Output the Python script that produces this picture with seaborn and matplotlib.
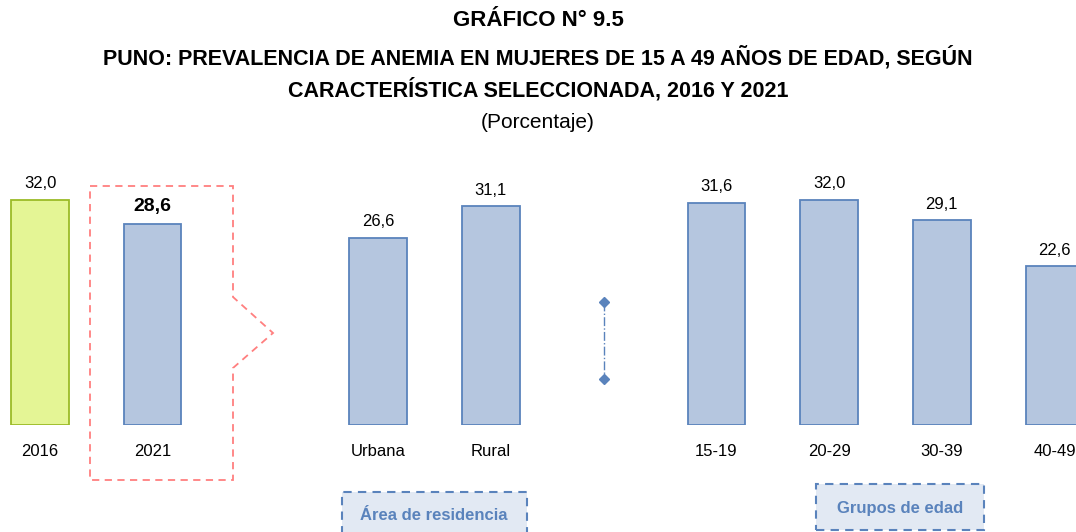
import pandas as pd
import matplotlib.pyplot as plt
import seaborn as sns
from matplotlib.patches import Polygon, Rectangle

# data
categorias = ["2016", "2021", "Urbana", "Rural", "15-19", "20-29", "30-39", "40-49"]
posiciones = [0, 1, 3, 4, 6, 7, 8, 9]
valores = [32.0, 28.6, 26.6, 31.1, 31.6, 32.0, 29.1, 22.6]
grupos = ["2016", "2021", "resto", "resto", "resto", "resto", "resto", "resto"]

df = pd.DataFrame({"pos": posiciones, "valor": valores, "grupo": grupos, "cat": categorias})

sns.set_style("white")
plt.rcParams['font.family'] = ['Liberation Sans Narrow', 'Liberation Sans', 'DejaVu Sans']
plt.rcParams['text.color'] = 'black'
plt.rcParams['xtick.color'] = 'black'

fig = plt.figure(figsize=(10.76, 5.32), dpi=100)
ax = fig.add_axes([0, 107 / 532, 1, 275 / 532])

paleta = {"2016": "#E4F595", "2021": "#B5C6DF", "resto": "#B5C6DF"}
sns.barplot(data=df, x="pos", y="valor", hue="grupo", palette=paleta, native_scale=True,
            dodge=False, width=0.51, legend=False, ax=ax, saturation=1)

# borde verde para 2016, azul para el resto
for p in ax.patches:
    cx = p.get_x() + p.get_width() / 2
    p.set_edgecolor("#9BBB27" if abs(cx) < 0.3 else "#5A83BC")
    p.set_linewidth(1.3)

for x, v in zip(posiciones, valores):
    txt = f"{v:.1f}".replace(".", ",")
    if x == 1:
        ax.text(x, v + 1.2, txt, ha="center", va="bottom", fontsize=14, fontweight="bold")
    else:
        ax.text(x, v + 1.2, txt, ha="center", va="bottom", fontsize=12)

ax.set_xlim(-0.355, 9.19)
ax.set_ylim(0, 39.1)
ax.set_xticks(posiciones)
ax.set_xticklabels(categorias, fontsize=12)
ax.tick_params(axis="x", length=0, pad=14)
ax.set_yticks([])
ax.set_xlabel("")
ax.set_ylabel("")
for s in ax.spines.values():
    s.set_visible(False)

# separador con rombos
ax.plot([5, 5], [17.5, 6.5], color="#5A83BC", linestyle="-.", linewidth=1,
        marker="D", markersize=5, clip_on=False)

# titulos
fig.text(0.5, 1 - 20 / 532, "GRÁFICO N° 9.5", ha="center", va="center", fontsize=16, fontweight="bold")
fig.text(0.5, 1 - 58 / 532, "PUNO: PREVALENCIA DE ANEMIA EN MUJERES DE 15 A 49 AÑOS DE EDAD, SEGÚN",
         ha="center", va="center", fontsize=15.5, fontweight="bold")
fig.text(0.5, 1 - 90 / 532, "CARACTERÍSTICA SELECCIONADA, 2016 Y 2021",
         ha="center", va="center", fontsize=15.5, fontweight="bold")
fig.text(0.5, 1 - 122 / 532, "(Porcentaje)", ha="center", va="center", fontsize=15)

# recuadro punteado alrededor de 2021
W, H = 1076, 532
pts = [(90, 186), (233, 186), (233, 297), (273, 333), (233, 368), (233, 480), (90, 480)]
pts = [(x / W, 1 - y / H) for x, y in pts]
fig.patches.append(Polygon(pts, closed=True, fill=False, edgecolor="#FF7F7F",
                           linestyle=(0, (4, 3)), linewidth=1.3, transform=fig.transFigure))

# cajas de grupos
fig.patches.append(Rectangle((342 / W, 1 - 540 / H), 185 / W, 48 / H, facecolor="#E2E9F3",
                             edgecolor="#5A83BC", linestyle=(0, (4, 3)), linewidth=1.5,
                             transform=fig.transFigure))
fig.text(434 / W, 1 - 516 / H, "Área de residencia", ha="center", va="center",
         fontsize=12, fontweight="bold", color="#5A83BC")
fig.patches.append(Rectangle((816 / W, 1 - 530 / H), 168 / W, 46 / H, facecolor="#E2E9F3",
                             edgecolor="#5A83BC", linestyle=(0, (4, 3)), linewidth=1.5,
                             transform=fig.transFigure))
fig.text(900 / W, 1 - 508 / H, "Grupos de edad", ha="center", va="center",
         fontsize=12, fontweight="bold", color="#5A83BC")

fig.savefig("out.png", dpi=100)
